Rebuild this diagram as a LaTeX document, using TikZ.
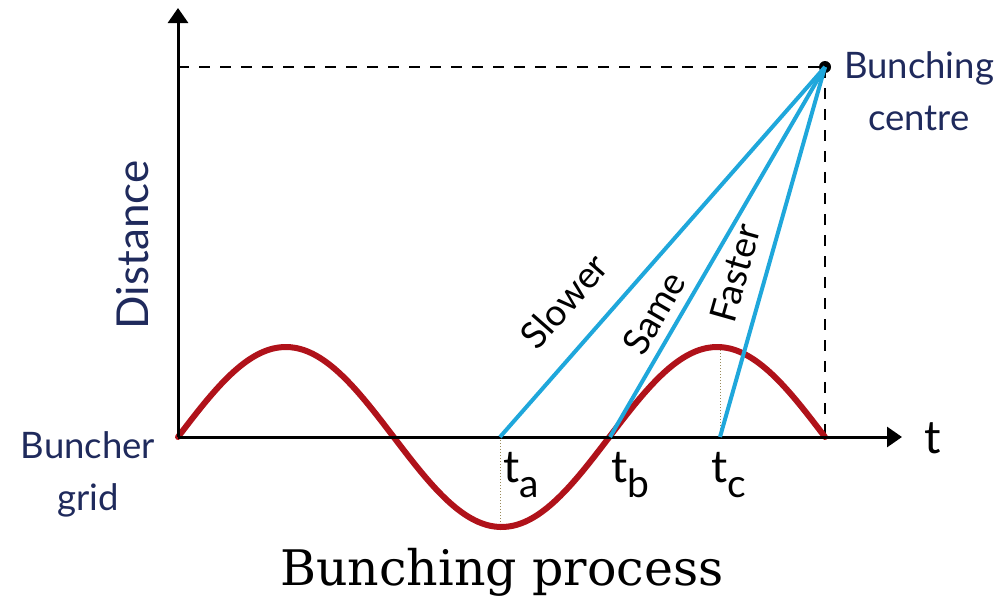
\documentclass[tikz,border=0pt]{standalone}
\usepackage{fontspec}
\setmainfont{Lato}
\newfontfamily\slabfont{DejaVu Serif}
\usetikzlibrary{arrows.meta}
\definecolor{navy}{HTML}{1F2A5C}
\definecolor{wave}{HTML}{B0121A}
\definecolor{beam}{HTML}{1FA7DB}
\definecolor{guide}{HTML}{9A8A5A}
\begin{document}
\begin{tikzpicture}[x=1pt,y=-1pt,
  axisline/.style={line width=3pt,-{Triangle[width=20pt,length=15pt]}},
  helper/.style={line width=2.5pt,dash pattern=on 11pt off 10pt},
  beamline/.style={beam,line width=4pt},
  waveline/.style={wave,line width=6pt},
  guideline/.style={guide,line width=1pt,dotted},
  navytext/.style={navy,inner sep=0pt,font=\fontsize{36.5}{52}\selectfont},
  slopelbl/.style={inner sep=0pt,font=\fontsize{37}{42}\selectfont},
  tlbl/.style={inner sep=0pt,anchor=base west,font=\fontsize{45}{48}\selectfont},
]
\useasboundingbox (0,0) rectangle (1002,613);
\coordinate (O) at (178,437);
\coordinate (ytop) at (178,8);
\coordinate (xend) at (902,437);
\coordinate (yc) at (178,67);
\coordinate (xc) at (825,437);
\coordinate (ta) at (500,437);
\coordinate (tb) at (610,437);
\coordinate (tc) at (720,437);
\coordinate (trough) at (500,530);
\coordinate (peak) at (720,350);
\node[circle,fill=black,inner sep=0pt,minimum size=12pt] (C) at (825,67) {};

% dashed helpers
\draw[helper] (yc) -- (C.center);
\draw[helper] (C.center) -- (xc);

% dotted guides
\draw[guideline] (ta) -- (trough);
\draw[guideline] (peak) -- (tc);

% wave
\draw[waveline,line cap=round] plot[domain=0:647,samples=150,smooth] ({178+\x},{437-90*sin(\x*0.834628)});

% axes
\draw[axisline] (O) -- (ytop);
\draw[axisline] (O) -- (xend);

% beams
\draw[beamline] (ta) -- (C.center);
\draw[beamline] (tb) -- (C.center);
\draw[beamline] (tc) -- (C.center);

% slope labels
\node[slopelbl,rotate=48.7] (slow) at (564,301) {Slower};
\node[slopelbl,rotate=59.8] (same) at (654,313) {Same};
\node[slopelbl,rotate=74.2] (fast) at (735,273) {Faster};

% t labels
\node[tlbl] (la) at (503,482) {t\raisebox{-15pt}{\fontsize{39}{40}\selectfont a}};
\node[tlbl] (lb) at (611,482) {t\raisebox{-15pt}{\fontsize{39}{40}\selectfont b}};
\node[tlbl] (lc) at (711,482) {t\raisebox{-15pt}{\fontsize{39}{40}\selectfont c}};
\node[inner sep=0pt,anchor=base,font=\fontsize{46}{48}\selectfont] (tx) at (933,453) {t};

% side labels
\node[navytext,rotate=90,font=\fontsize{44}{48}\selectfont] (dist) at (133,245) {Distance};
\node[navytext,align=center,anchor=base] (bg) at (88,510) {Buncher\\grid};
\node[navytext,align=center,anchor=base] (bc) at (919,130) {Bunching\\centre};

% title
\node[inner sep=0pt,anchor=base,font=\slabfont\fontsize{49}{52}\selectfont] (title) at (502,585) {Bunching process};
\end{tikzpicture}
\end{document}
